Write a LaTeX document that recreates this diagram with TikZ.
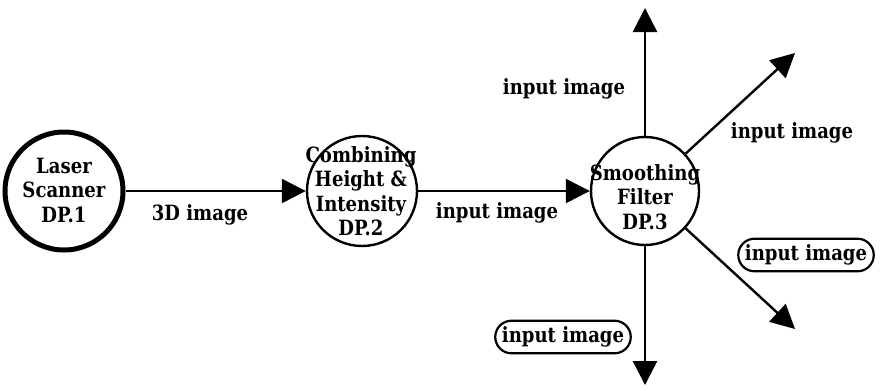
\documentclass[tikz,border=0pt]{standalone}
\usepackage{fontspec}
\setmainfont{DejaVu Serif}[FakeStretch=0.86]
\usetikzlibrary{arrows.meta,shapes.misc}
\begin{document}
\begin{tikzpicture}[x=1pt,y=-1pt,
  every node/.style={font=\bfseries\fontsize{21}{24.5}\selectfont},
  proc/.style={draw,circle,line width=2.4pt,inner sep=0pt},
  ptext/.style={align=center,inner sep=0pt},
  flow/.style={line width=2.4pt,-{Triangle[length=24pt,width=24pt]}},
  lbl/.style={inner sep=1pt},
  store/.style={draw,rounded rectangle,line width=2.2pt,inner xsep=3pt,inner ysep=6pt}]
\useasboundingbox (0,0) rectangle (882,389);

% processes
\node[proc,line width=5pt,minimum size=118pt] (dp1) at (64,191) {};
\node[ptext] (t1) at (64,190) {Laser\\Scanner\\DP.1};
\node[proc,minimum size=110pt] (dp2) at (362,191) {};
\node[ptext] (t2) at (361,191) {Combining\\Height \&\\Intensity\\DP.2};
\node[proc,minimum size=108pt] (dp3) at (645,191) {};
\node[ptext] (t3) at (645,197) {Smoothing\\Filter\\DP.3};

% free ends of the outgoing flows
\coordinate (outN)  at (645,8);
\coordinate (outS)  at (645,385);
\coordinate (outNE) at (795,53);
\coordinate (outSE) at (795,329);

% flows
\draw[flow] (dp1.east) -- (dp2.west);
\draw[flow] (dp2.east) -- (dp3.west);
\draw[flow] (dp3.north) -- (outN);
\draw[flow] (dp3.south) -- (outS);
\draw[flow] (dp3) -- (outNE);
\draw[flow] (dp3) -- (outSE);

% flow labels
\node[lbl] (l1) at (200,215) {3D image};
\node[lbl] (l2) at (497,213) {input image};
\node[lbl] (l3) at (564,89) {input image};
\node[lbl] (l4) at (792,133) {input image};
\node[store] (s1) at (806,255) {input image};
\node[store] (s2) at (563,337) {input image};
\end{tikzpicture}
\end{document}
